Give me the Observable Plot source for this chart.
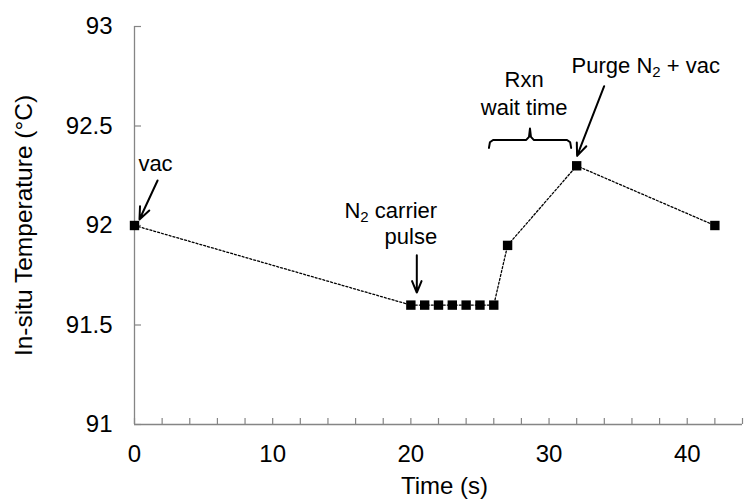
<!DOCTYPE html>
<html>
<head>
<meta charset="utf-8">
<script src="https://cdn.jsdelivr.net/npm/d3@7"></script>
<script src="https://cdn.jsdelivr.net/npm/@observablehq/plot@0.6"></script>
<style>
  html, body { margin: 0; padding: 0; background: #fff; }
</style>
</head>
<body>
<div id="chart"></div>
<script>
// Data series
const timeS = [0, 20, 21, 22, 23, 24, 25, 26, 27, 32, 42];
const tempC = [92.0, 91.6, 91.6, 91.6, 91.6, 91.6, 91.6, 91.6, 91.9, 92.3, 92.0];

// Axis ticks
const xTickLabels = [0, 10, 20, 30, 40];
const xMinorTicks = [0, 2, 4, 6, 8, 10, 12, 14, 16, 18, 20, 22, 24, 26, 28, 30, 32, 34, 36, 38, 40, 42, 44];
const yTickLabels = [91, 91.5, 92, 92.5, 93];

// Annotations
const annLabels = ["vac", "N₂ carrier", "pulse", "Rxn", "wait time", "Purge N₂ + vac"];
const annX = [1.52, 18.55, 20.0, 28.2, 28.2, 37.0];
const annY = [92.31, 92.075, 91.94, 92.73, 92.593, 92.80];

const arrowX1 = [1.67, 20.43, 33.99];
const arrowY1 = [92.226, 91.85, 92.70];
const arrowX2 = [0.36, 20.43, 32.03];
const arrowY2 = [92.03, 91.663, 92.35];

const braceX = [25.65, 25.72, 25.95, 28.35, 28.55, 28.62, 28.69, 28.89, 31.3, 31.53, 31.6];
const braceY = [92.39, 92.418, 92.43, 92.43, 92.445, 92.487, 92.445, 92.43, 92.43, 92.418, 92.39];

const points = timeS.map((t, i) => ({t, v: tempC[i]}));
const anns = annLabels.map((s, i) => ({s, x: annX[i], y: annY[i]}));
const arrows = arrowX1.map((x1, i) => ({x1, y1: arrowY1[i], x2: arrowX2[i], y2: arrowY2[i]}));
const brace = braceX.map((x, i) => ({x, y: braceY[i]}));

const W = 745, H = 500;
const mL = 134, mR = 3, mT = 26, mB = 76;
const axisColor = "#858585";

const chart = Plot.plot({
  width: W,
  height: H,
  marginLeft: mL,
  marginRight: mR,
  marginTop: mT,
  marginBottom: mB,
  style: {fontFamily: "'Liberation Sans', Arial, sans-serif", fontSize: "24px", background: "#fff", color: "#000"},
  x: {domain: [0, 44], axis: null},
  y: {domain: [91, 93], axis: null},
  marks: [
    // axis lines
    Plot.ruleX([0], {stroke: axisColor, strokeWidth: 1.3}),
    Plot.ruleY([91], {stroke: axisColor, strokeWidth: 1.3}),
    // inside ticks
    Plot.tickX(xMinorTicks, {x: d => d, stroke: axisColor, strokeWidth: 1.2, insetTop: (H - mT - mB) - 6}),
    Plot.tickY(yTickLabels, {y: d => d, stroke: axisColor, strokeWidth: 1.2, insetRight: (W - mL - mR) - 7}),
    // tick labels
    Plot.text(xTickLabels, {x: d => d, text: d => String(d), frameAnchor: "bottom", dy: 20, lineAnchor: "top", fontSize: 24, fill: "#000"}),
    Plot.text(yTickLabels, {y: d => d, text: d => String(d), frameAnchor: "left", dx: -22, textAnchor: "end", fontSize: 24, fill: "#000"}),
    // axis titles
    Plot.text(["Time (s)"], {frameAnchor: "bottom", dx: 6, dy: 52, lineAnchor: "top", fontSize: 24, fill: "#000"}),
    Plot.text(["In-situ Temperature (°C)"], {frameAnchor: "left", dx: -110, rotate: -90, textAnchor: "middle", fontSize: 24.5, fill: "#000"}),
    // data
    Plot.line(points, {x: "t", y: "v", stroke: "#000", strokeWidth: 1.3, strokeDasharray: "2,2"}),
    Plot.dot(points, {x: "t", y: "v", symbol: "square", r: 5.3, fill: "#000", stroke: "none"}),
    // annotations
    Plot.arrow(arrows, {x1: "x1", y1: "y1", x2: "x2", y2: "y2", stroke: "#000", strokeWidth: 2, headLength: 10, headAngle: 45}),
    Plot.line(brace, {x: "x", y: "y", stroke: "#000", strokeWidth: 2, curve: "linear"}),
    Plot.text(anns, {x: "x", y: "y", text: "s", fontSize: 22, fill: "#000"})
  ]
});

// Render "₂" as a proper subscript
chart.querySelectorAll("text").forEach(t => {
  if (t.children.length === 0 && t.textContent.includes("₂")) {
    const parts = t.textContent.split("₂");
    t.textContent = "";
    parts.forEach((p, i) => {
      t.appendChild(document.createTextNode(p));
      if (i < parts.length - 1) {
        const sub = document.createElementNS("http://www.w3.org/2000/svg", "tspan");
        sub.setAttribute("baseline-shift", "-25%");
        sub.setAttribute("font-size", "15");
        sub.textContent = "2";
        t.appendChild(sub);
      }
    });
  }
});

document.getElementById("chart").appendChild(chart);
</script>
</body>
</html>
